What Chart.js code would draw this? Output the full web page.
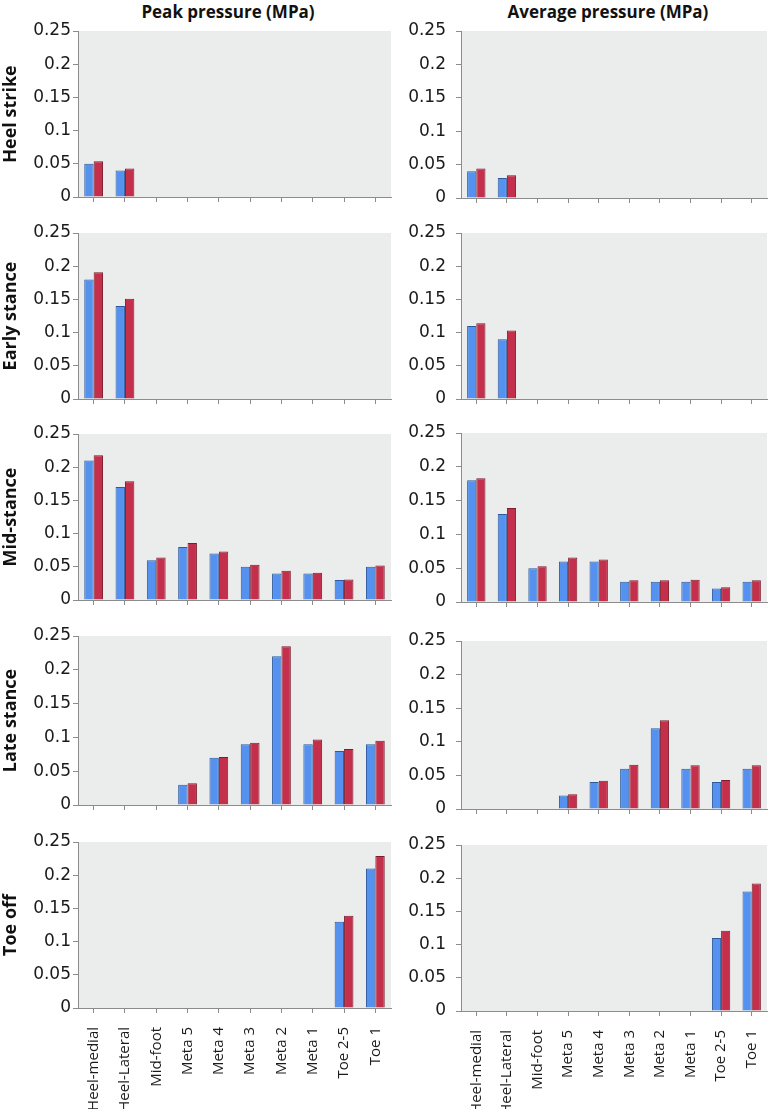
<!DOCTYPE html>
<html>
<head>
<meta charset="utf-8">
<title>Peak and average plantar pressure</title>
<script src="https://cdn.jsdelivr.net/npm/chart.js@4.4.1/dist/chart.umd.min.js"></script>
<style>
  body { margin: 0; background: #fff; }
  #wrap { position: relative; width: 771px; height: 1109px; overflow: hidden; }
  #wrap canvas { position: absolute; }
  .colTitle { position: absolute; top: 0; width: 320px; text-align: center; font: bold 17px 'Open Sans'; color: #111; }
</style>
</head>
<body>
<div id="wrap">
  <div class="colTitle" style="left:68px">Peak pressure (MPa)</div>
  <div class="colTitle" style="left:448px">Average pressure (MPa)</div>
</div>
<script>
// data
const regions = ['Heel-medial', 'Heel-Lateral', 'Mid-foot', 'Meta 5', 'Meta 4', 'Meta 3', 'Meta 2', 'Meta 1', 'Toe 2-5', 'Toe 1'];
const phases = ['Heel strike', 'Early stance', 'Mid-stance', 'Late stance', 'Toe off'];
const yTickLabels = ['0', '0.05', '0.1', '0.15', '0.2', '0.25'];

const peakBlue = [
    [0.05, 0.04, 0, 0, 0, 0, 0, 0, 0, 0],
    [0.18, 0.14, 0, 0, 0, 0, 0, 0, 0, 0],
    [0.21, 0.17, 0.06, 0.08, 0.07, 0.05, 0.04, 0.04, 0.03, 0.05],
    [0, 0, 0, 0.03, 0.07, 0.09, 0.22, 0.09, 0.08, 0.09],
    [0, 0, 0, 0, 0, 0, 0, 0, 0.13, 0.21]
];
const peakRed = [
    [0.054, 0.043, 0, 0, 0, 0, 0, 0, 0, 0],
    [0.191, 0.151, 0, 0, 0, 0, 0, 0, 0, 0],
    [0.218, 0.179, 0.064, 0.086, 0.073, 0.053, 0.044, 0.041, 0.031, 0.052],
    [0, 0, 0, 0.032, 0.071, 0.092, 0.235, 0.097, 0.083, 0.095],
    [0, 0, 0, 0, 0, 0, 0, 0, 0.139, 0.229]
];
const avgBlue = [
    [0.04, 0.03, 0, 0, 0, 0, 0, 0, 0, 0],
    [0.11, 0.09, 0, 0, 0, 0, 0, 0, 0, 0],
    [0.18, 0.13, 0.05, 0.06, 0.06, 0.03, 0.03, 0.03, 0.02, 0.03],
    [0, 0, 0, 0.02, 0.04, 0.06, 0.12, 0.06, 0.04, 0.06],
    [0, 0, 0, 0, 0, 0, 0, 0, 0.11, 0.18]
];
const avgRed = [
    [0.044, 0.034, 0, 0, 0, 0, 0, 0, 0, 0],
    [0.114, 0.103, 0, 0, 0, 0, 0, 0, 0, 0],
    [0.183, 0.139, 0.053, 0.066, 0.063, 0.032, 0.032, 0.033, 0.022, 0.032],
    [0, 0, 0, 0.022, 0.042, 0.066, 0.132, 0.065, 0.043, 0.065],
    [0, 0, 0, 0, 0, 0, 0, 0, 0.121, 0.192]
];

// layout (pixels)
const colLeft = [0, 395];
const colWidth = [395, 376];
const yAxisWidth = [78, 66];
const yTickPad = [2, 10];
const plotTop = [[31, 233, 434, 636, 842], [31, 233, 433, 641, 845]];
const plotBottom = [[197, 399, 600, 805, 1008], [198, 399, 602, 809, 1011]];
const padTop = 10;

const plotBg = {
    id: 'plotBg',
    beforeDraw(chart) {
        const { ctx, chartArea: a } = chart;
        ctx.save();
        ctx.fillStyle = '#ebecec';
        ctx.fillRect(a.left, a.top, a.right - a.left, a.bottom - a.top);
        ctx.restore();
    }
};

const wrap = document.getElementById('wrap');

function makeChart(col, row) {
    const isBottom = row === phases.length - 1;
    const top = plotTop[col][row];
    const bottom = plotBottom[col][row];
    const xh = isBottom ? 1109 - bottom : 12;

    const canvas = document.createElement('canvas');
    canvas.width = colWidth[col];
    canvas.height = bottom - top + padTop + xh;
    canvas.style.left = colLeft[col] + 'px';
    canvas.style.top = (top - padTop) + 'px';
    wrap.appendChild(canvas);

    const blue = col === 0 ? peakBlue[row] : avgBlue[row];
    const red = col === 0 ? peakRed[row] : avgRed[row];

    new Chart(canvas.getContext('2d'), {
        type: 'bar',
        data: {
            labels: regions,
            datasets: [
                { data: blue, backgroundColor: '#5591ee', borderColor: '#2d5a9c', borderWidth: 1 },
                { data: red, backgroundColor: '#c4304b', borderColor: '#7c1c2c', borderWidth: 1 }
            ]
        },
        options: {
            responsive: false,
            animation: false,
            events: [],
            layout: { padding: { top: padTop, right: 4, left: 0, bottom: 0 } },
            datasets: { bar: { categoryPercentage: 0.6, barPercentage: 1.0 } },
            plugins: { legend: { display: false }, tooltip: { enabled: false } },
            scales: {
                x: {
                    afterFit(scale) {
                        scale.height = xh;
                        scale.paddingLeft = 0;
                        scale.paddingRight = 0;
                    },
                    grid: { offset: false, drawOnChartArea: false, drawTicks: true, tickLength: 5, color: '#8c8c8c' },
                    border: { color: '#8c8c8c' },
                    ticks: {
                        display: isBottom,
                        autoSkip: false,
                        minRotation: 90,
                        maxRotation: 90,
                        padding: 14,
                        color: '#1a1a1a',
                        font: { family: 'Open Sans', size: 15 }
                    }
                },
                y: {
                    min: 0,
                    max: 0.25,
                    afterFit(scale) {
                        scale.width = yAxisWidth[col];
                        scale.paddingTop = 0;
                        scale.paddingBottom = 0;
                    },
                    grid: { drawOnChartArea: false, drawTicks: true, tickLength: 5, color: '#8c8c8c' },
                    border: { color: '#8c8c8c' },
                    ticks: {
                        stepSize: 0.05,
                        padding: yTickPad[col],
                        color: '#1a1a1a',
                        font: { family: 'DejaVu Sans', size: 17 },
                        callback: (v, i) => yTickLabels[i]
                    },
                    title: {
                        display: col === 0,
                        text: phases[row],
                        color: '#111',
                        padding: 0,
                        font: { family: 'Open Sans', size: 18, weight: 'bold' }
                    }
                }
            }
        },
        plugins: [plotBg]
    });
}

for (let row = 0; row < phases.length; row++) {
    makeChart(0, row);
    makeChart(1, row);
}
</script>
</body>
</html>
